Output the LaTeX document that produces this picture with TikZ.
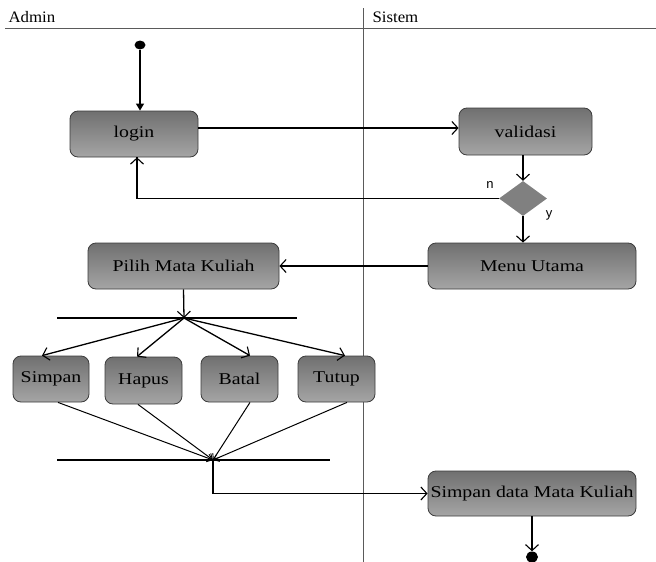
\documentclass[tikz,border=0pt]{standalone}
\usepackage{fontspec}
\setmainfont{Liberation Serif}[FakeStretch=1.2]
\newfontfamily\hdr{Liberation Serif}[FakeStretch=1.05]
\newfontfamily\yn{Liberation Sans}
\usetikzlibrary{arrows.meta,shapes.geometric}
\definecolor{boxtop}{RGB}{112,112,112}
\definecolor{boxbot}{RGB}{165,165,165}
\definecolor{boxline}{RGB}{60,60,60}
\definecolor{lanecol}{RGB}{90,90,90}
\begin{document}
\begin{tikzpicture}[x=1pt,y=-1pt,
  act/.style={draw=boxline,line width=0.8pt,rounded corners=8pt,top color=boxtop,bottom color=boxbot,
    inner sep=0pt,font=\fontsize{16.5}{18}\selectfont},
  conn/.style={line width=1.3pt,-{Straight Barb[length=6pt,width=13pt,line width=1.1pt]}},
  small/.style={line width=1pt,-{Straight Barb[length=5pt,width=8pt,line width=0.9pt]}},
  bar/.style={line width=1.8pt},
  lane/.style={draw=lanecol,line width=0.9pt},
  hdrtext/.style={anchor=west,font=\hdr\fontsize{16}{18}\selectfont},
  dot/.style={fill=black,ellipse,inner sep=0pt}]
\useasboundingbox (0,0) rectangle (656,562);
% swimlanes
\draw[lane] (5,28) -- (656,28);
\draw[lane] (363,8) -- (363,562);
\node[hdrtext] (admin) at (5,17) {Admin};
\node[hdrtext] (sistem) at (369,17) {Sistem};
% nodes
\node[dot,minimum width=11pt,minimum height=9pt] (start) at (140,45) {};
\node[act,minimum width=128pt,minimum height=46pt] (login) at (134,134) {login};
\node[act,minimum width=133pt,minimum height=47pt] (validasi) at (525.5,131.5) {validasi};
\node[diamond,fill={rgb,255:red,128;green,128;blue,128},minimum width=48pt,minimum height=35pt,inner sep=0pt] (dia) at (523,198.5) {};
\node[font=\yn\fontsize{13}{14}\selectfont] (n) at (490,185) {n};
\node[font=\yn\fontsize{13}{14}\selectfont] (y) at (549,215) {y};
\node[act,minimum width=208pt,minimum height=46pt] (menu) at (532,266) {Menu Utama};
\node[act,minimum width=191pt,minimum height=46pt] (pilih) at (183.5,266) {Pilih Mata Kuliah};
\coordinate (fork) at (184,318);
\coordinate (forkL) at (57,318);
\coordinate (forkR) at (297,318);
\node[act,minimum width=76pt,minimum height=46pt] (simpan) at (51,379) {Simpan};
\node[act,minimum width=77pt,minimum height=47pt] (hapus) at (143.5,380.5) {Hapus};
\node[act,minimum width=77pt,minimum height=46pt] (batal) at (239.5,379) {Batal};
\node[act,minimum width=77pt,minimum height=46pt] (tutup) at (336.5,379) {Tutup};
\coordinate (join) at (213,460);
\coordinate (joinL) at (57,460);
\coordinate (joinR) at (330,460);
\node[act,minimum width=208pt,minimum height=45pt] (sd) at (532,493.5) {Simpan data Mata Kuliah};
\node[dot,minimum width=12pt,minimum height=11pt] (end) at (532,557) {};
% bars
\draw[bar] (forkL) -- (forkR);
\draw[bar] (joinL) -- (joinR);
% connectors
\draw[line width=1.3pt,-{Triangle[length=7pt,width=8pt]}] (start) -- (start |- login.north);
\draw[conn] ([yshift=6pt]login.east) -- ([yshift=6pt]login.east -| validasi.west);
\draw[conn] (validasi.south -| dia.north) -- (dia.north);
\draw[line width=1.3pt] (dia.west) -| ([xshift=3pt]login.south);
\draw[conn] ([xshift=3pt]login.south |- dia.west) -- ([xshift=3pt]login.south);
\draw[conn] (dia.south) -- (dia.south |- menu.north);
\draw[conn] (menu.west) -- (pilih.east);
\draw[conn] (pilih.south) -- (fork);
\draw[conn] (fork) -- ([xshift=-9pt]simpan.north);
\draw[conn] (fork) -- ([xshift=-6.5pt]hapus.north);
\draw[conn] (fork) -- ([xshift=10.5pt]batal.north);
\draw[conn] (fork) -- ([xshift=8.5pt]tutup.north);
\draw[small] ([xshift=7pt]simpan.south) -- (join);
\draw[small] ([xshift=-5.5pt]hapus.south) -- (join);
\draw[small] ([xshift=10.5pt]batal.south) -- (join);
\draw[small] ([xshift=10.5pt]tutup.south) -- (join);
\draw[conn] (join) |- (sd.west);
\draw[conn] (sd.south) -- (end.north);
\end{tikzpicture}
\end{document}
